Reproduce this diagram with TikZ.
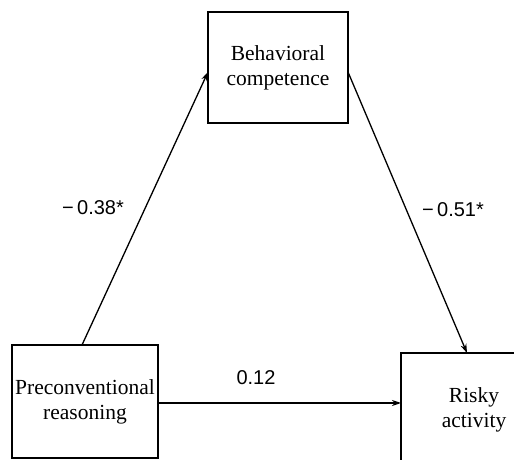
\documentclass[tikz,border=0pt]{standalone}
\usepackage{fontspec}
\setmainfont{Liberation Serif}
\newfontfamily\coeffont{Liberation Sans}
\usetikzlibrary{arrows.meta}

\begin{document}
\begin{tikzpicture}
[
x=1pt,y=1pt,
varbox/.style={draw,line width=1.5pt,minimum width=#1,align=center,inner sep=0pt,
               font=\fontsize{21.5}{25}\selectfont},
varbox/.default=140pt,
path/.style={draw,line width=1.3pt,-{Stealth[length=9pt,width=6pt]}},
coef/.style={font=\coeffont\fontsize{20}{24}\selectfont,inner sep=0pt},
]
\useasboundingbox (0,0) rectangle (514,460);
\clip (0,0) rectangle (514,460);

\node[varbox=140pt,minimum height=111pt] (comp) at (278,392.5) {Behavioral\\competence};
\node[varbox=146pt,minimum height=113pt] (reas) at (85,58.5) {Preconventional\\reasoning};
\node[varbox=146pt,minimum height=113pt] (risk) at (474,50.5) {Risky\\activity};

\coordinate (a1) at (82,115);
\coordinate (b1) at (208,388);
\coordinate (b2) at (348,388);
\coordinate (c1) at (467,107);
\coordinate (a2) at (158,57);
\coordinate (c2) at (401,57);

\draw[path] (a1) to (b1);
\draw[path] (b2) to (c1);
\draw[path] (a2) to (c2);

\node[coef] (ab) at (93,252) {−\,0.38*};
\node[coef] (bc) at (453,250) {−\,0.51*};
\node[coef] (ac) at (256,82) {0.12};

\end{tikzpicture}
\end{document}
